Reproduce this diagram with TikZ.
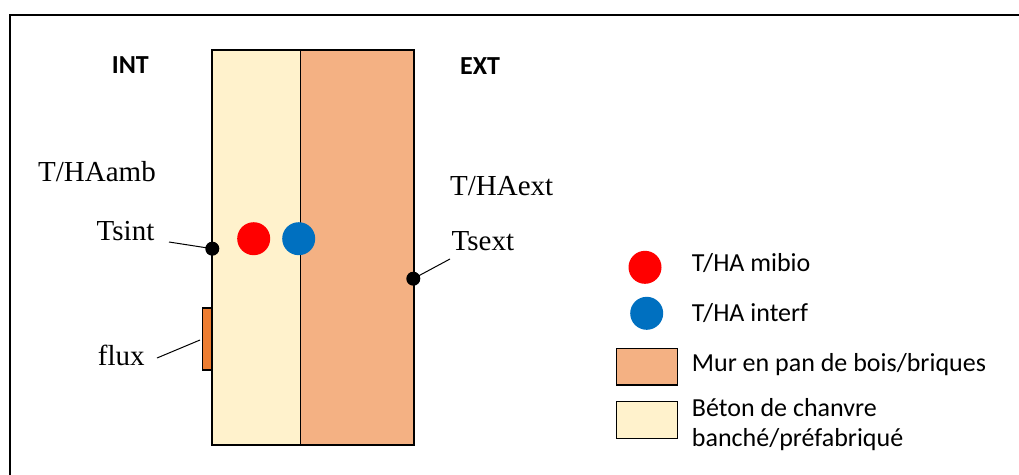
\documentclass[tikz,border=0pt]{standalone}
\usepackage{fontspec}
\setmainfont{Liberation Serif}
\newfontfamily\calfont{Carlito}
\newfontfamily\tnrfont{Liberation Serif}
\definecolor{beige}{HTML}{FFF2CC}
\definecolor{brick}{HTML}{F4B183}
\definecolor{fluxc}{HTML}{ED7D31}
\definecolor{redc}{HTML}{FF0000}
\definecolor{bluec}{HTML}{0070C0}
\tikzset{
  serlab/.style={inner sep=0pt, font=\tnrfont\fontsize{29}{34}\selectfont},
  callab/.style={inner sep=0pt, font=\calfont\fontsize{26}{30}\selectfont},
  calbold/.style={inner sep=0pt, font=\calfont\bfseries\fontsize{26}{30}\selectfont},
  wall/.style={draw=black, line width=1.8pt},
  probe/.style={circle, fill=black, inner sep=0pt, minimum size=14pt},
  sensor/.style={circle, inner sep=0pt, minimum size=33pt},
  leader/.style={draw=black, line width=1pt},
}
\begin{document}
\begin{tikzpicture}[x=1pt,y=-1pt]
\useasboundingbox (0,0) rectangle (1019,474);
\fill[white] (0,0) rectangle (1019,474);
% frame (only top and left visible)
\draw[line width=1.8pt] (10,480) -- (10,15) -- (1030,15);
% wall layers
\draw[wall, fill=beige] (212,50) rectangle (300.5,445);
\draw[wall, fill=brick] (300.5,50) rectangle (414,445);
% flux sensor
\draw[line width=1.5pt, fill=fluxc] (202.5,308) rectangle (212,370);
\coordinate (fluxp) at (200,340);
% sensors
\node[sensor, fill=redc] (mibio) at (253.7,238.7) {};
\node[sensor, fill=bluec] (interf) at (298.7,238.7) {};
% surface probes
\node[probe] (tsintp) at (212.3,248.7) {};
\node[probe] (tsextp) at (413.3,278.7) {};
% labels
\node[calbold, anchor=base west] (int) at (111.7,73.3) {INT};
\node[calbold, anchor=base west] (ext) at (460,74) {EXT};
\node[serlab, anchor=base west] (amb) at (38,181) {T/HAamb};
\node[serlab, anchor=base west] (hext) at (450,195) {T/HAext};
\node[serlab, anchor=base east] (tsint) at (154.5,240) {Tsint};
\node[serlab, anchor=base west] (tsext) at (451.5,250.7) {Tsext};
\node[serlab, anchor=base west] (flux) at (97.7,365.7) {flux};
% leaders
\coordinate (l1) at (169,242);
\coordinate (l2) at (450,259);
\coordinate (l3) at (157,358);
\draw[leader] (l1) -- (tsintp.center);
\draw[leader] (l2) -- (tsextp.center);
\draw[leader] (l3) -- (fluxp);
% legend
\node[sensor, fill=redc] (lg1) at (645,267.3) {};
\node[sensor, fill=bluec] (lg2) at (646.7,313.3) {};
\draw[line width=1.5pt, fill=brick] (616.7,348.3) rectangle (677.3,385);
\draw[line width=1.5pt, fill=beige] (616.7,401.7) rectangle (677.3,438.3);
\node[callab, anchor=base west] (t1) at (691.7,271.7) {T/HA mibio};
\node[callab, anchor=base west] (t2) at (691.7,321) {T/HA interf};
\node[callab, anchor=base west] (t3) at (691.7,371.7) {Mur en pan de bois/briques};
\node[callab, anchor=base west] (t4) at (691.7,416.7) {Béton de chanvre};
\node[callab, anchor=base west] (t5) at (691.7,446) {banché/préfabriqué};
\end{tikzpicture}
\end{document}
